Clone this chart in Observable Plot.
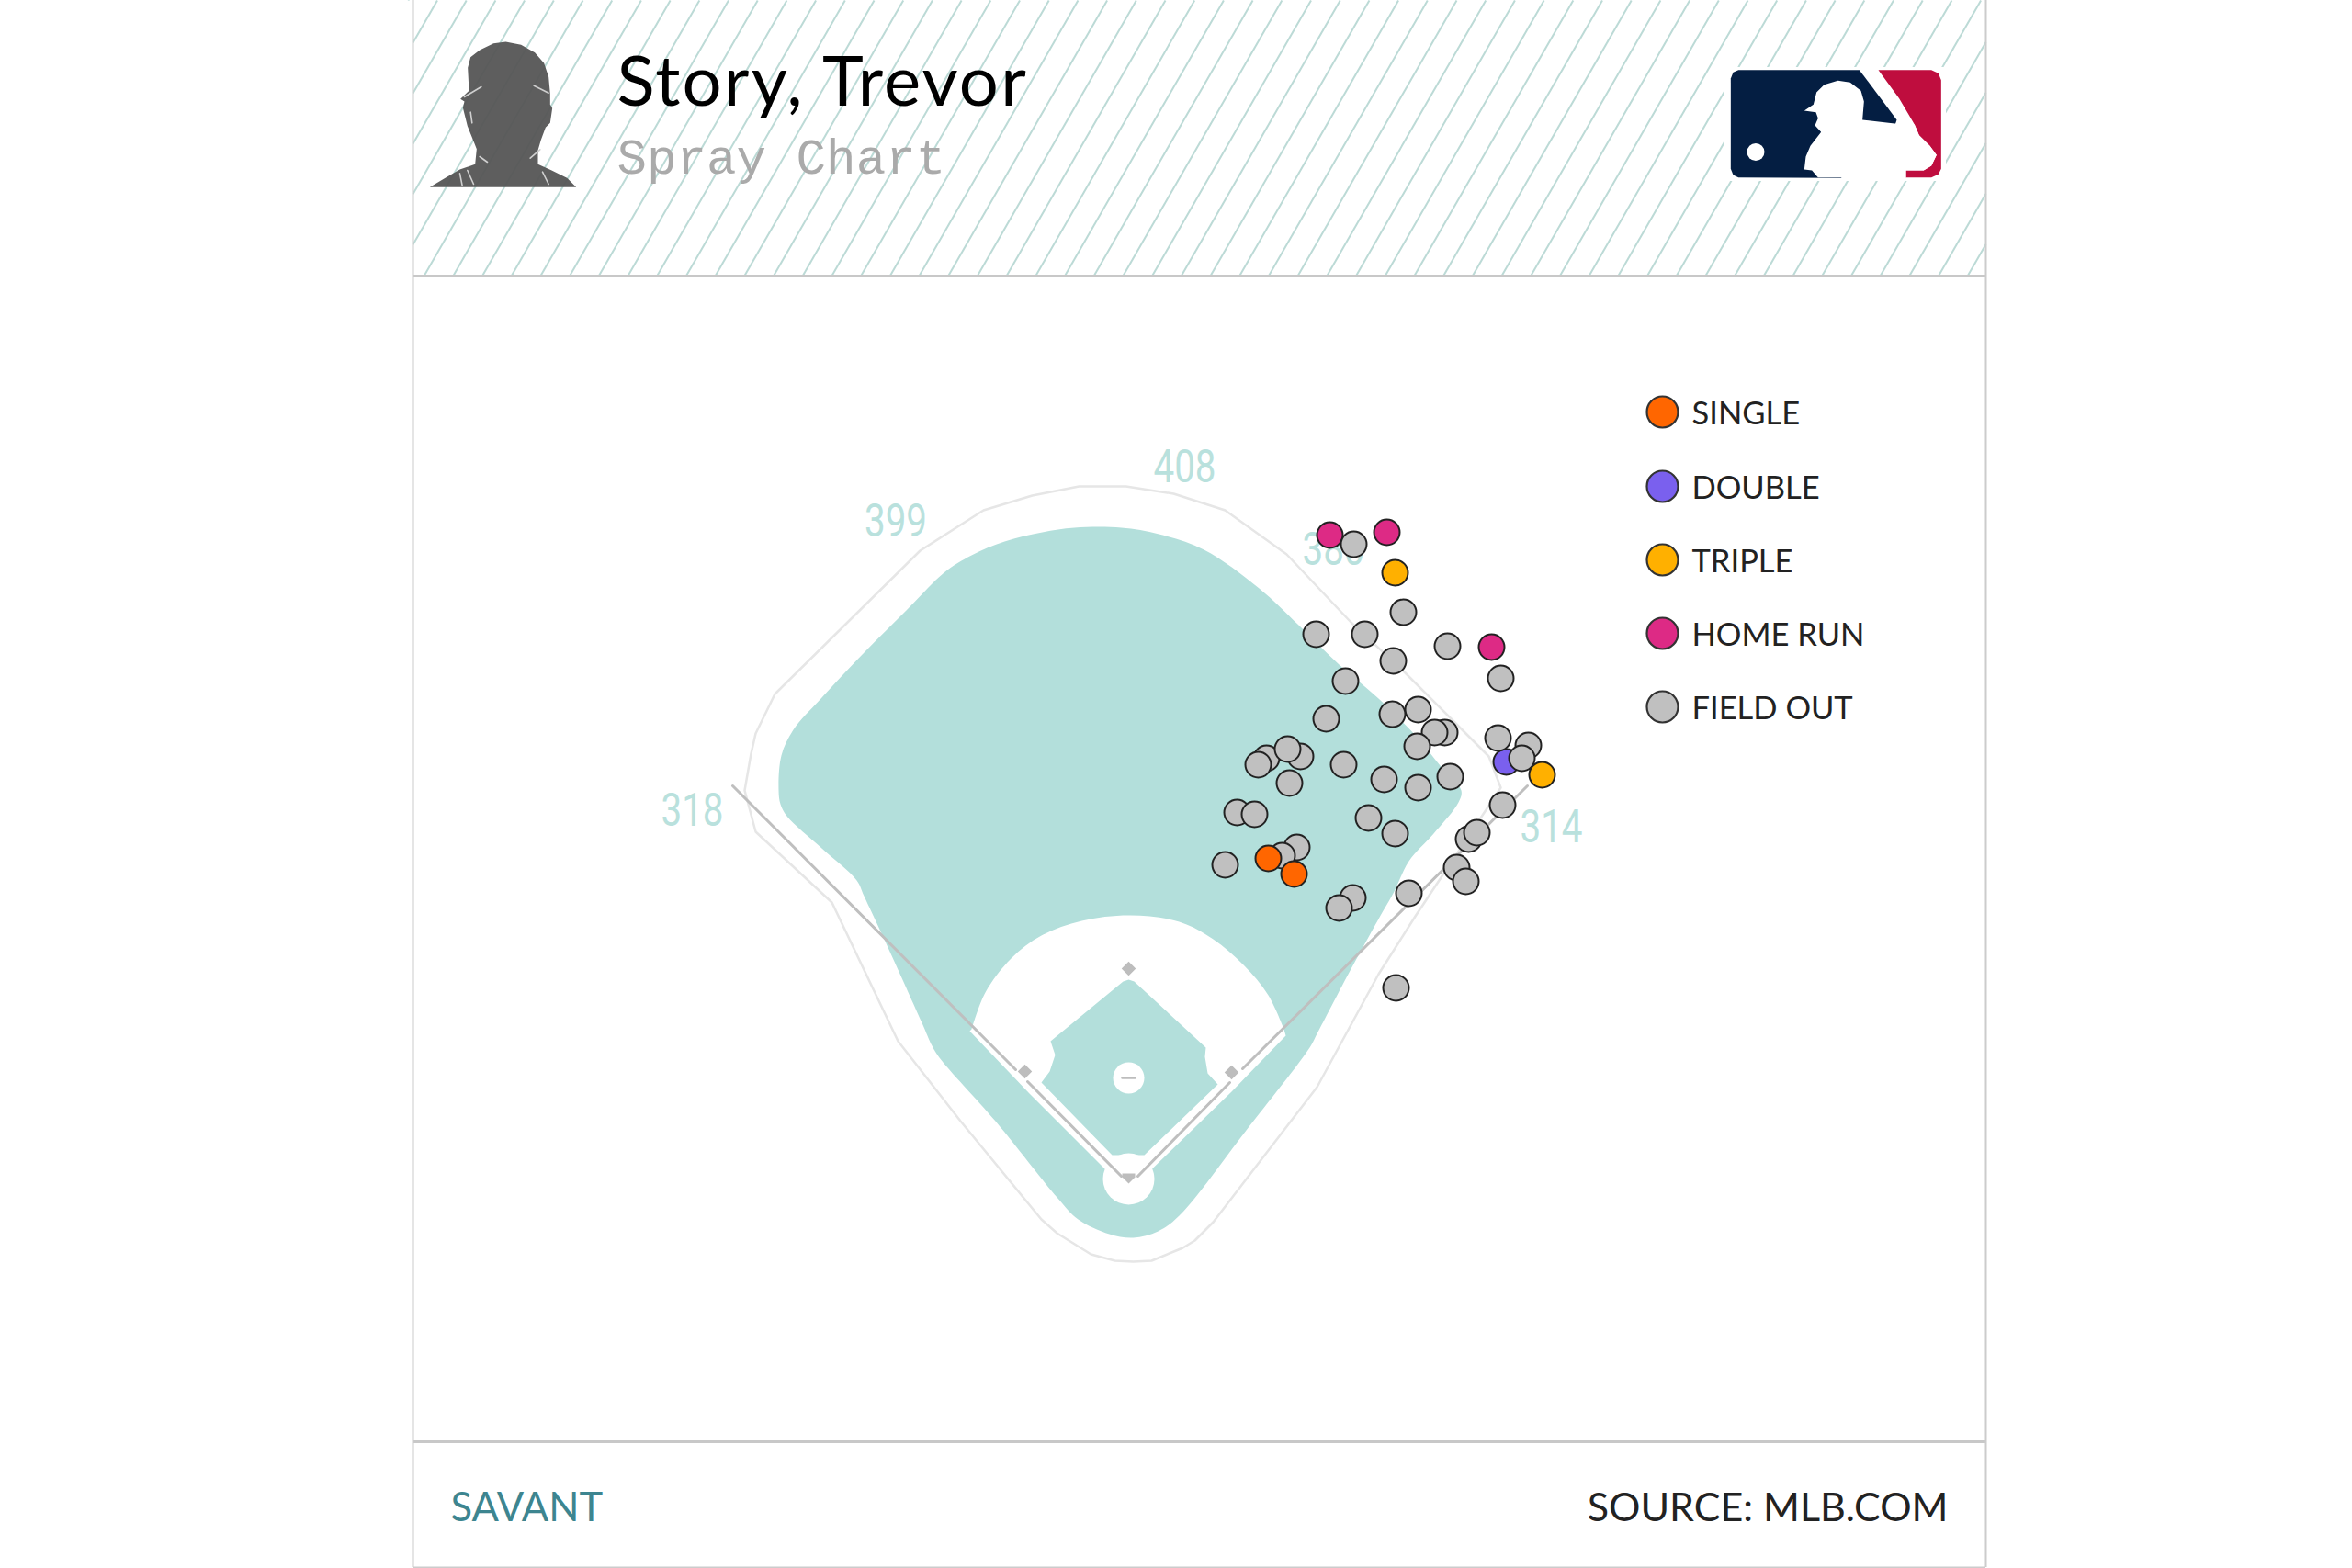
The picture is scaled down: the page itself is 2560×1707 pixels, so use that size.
<!DOCTYPE html>
<html>
<head>
<meta charset="utf-8">
<script src="https://cdn.jsdelivr.net/npm/d3@7"></script>
<script src="https://cdn.jsdelivr.net/npm/@observablehq/plot@0.6"></script>
<style>
html,body{margin:0;padding:0;background:#fff}
svg{display:block}
.title-text text{letter-spacing:2.2px}
</style>
</head>
<body>
<div id="chart"></div>
<script>
// Batted balls (x, y in chart units)
const homeRuns = [[1447,582],[1509,579],[1623,704]];
const doubles = [[1639,829]];
const fieldOuts = [[1473,592],[1527,666],[1432,690],[1485,690],[1575,703],[1516,719],[1633,738],[1464,741],[1443,782],[1543,772],[1515,777],[1572,797],[1561,797],[1542,812],[1630,803],[1663,811],[1656,825],[1415,823],[1378,825],[1369,832],[1401,815],[1462,832],[1403,852],[1506,848],[1543,857],[1578,845],[1346,884],[1365,886],[1489,890],[1518,907],[1635,876],[1598,913],[1607,906],[1411,922],[1395,931],[1333,941],[1585,944],[1595,959],[1533,972],[1472,977],[1457,988],[1519,1075]];
const singles = [[1380,934],[1408,951]];
const triples = [[1518,623],[1678,843]];

// Legend
const legendLabels = ["SINGLE","DOUBLE","TRIPLE","HOME RUN","FIELD OUT"];
const legendColors = ["#ff6600","#7a60ee","#ffb000","#dd2a85","#c0c0c0"];
const legendY = [448,529,609,689,769];

// Distance labels
const distLabels = ["318","399","408","380","314"];
const distX = [753,974.5,1289,1451,1688];
const distY = [898,583,524,614,916];

// Field shapes
const wall = [[1045,1220],[1133,1327],[1150,1342],[1187,1365],[1213,1372],[1233,1373],[1253,1372],[1287,1358],[1300,1350],[1320,1330],[1433,1183],[1500,1060],[1540,997],[1633,857],[1620,823],[1587,790],[1527,730],[1470,677],[1400,603],[1333,555],[1277,537],[1225,529],[1174,529],[1123,539],[1070,555],[1001,599],[843,755],[822,798],[817,820],[810,860],[822,905],[905,982],[977,1133]];
const outfield = [[856,888],[849,875],[847,860],[850,822],[863,794],[894,759],[940,710],[986,664],[1027,623],[1057,604],[1093,589],[1134,579],[1169,574],[1220,574],[1261,581],[1310,598],[1370,640],[1413,680],[1457,723],[1500,760],[1540,800],[1567,833],[1590,860],[1587,873],[1560,907],[1533,937],[1517,970],[1500,1000],[1467,1060],[1433,1125],[1425,1140],[1356,1230],[1283,1323],[1260,1340],[1233,1347],[1207,1343],[1173,1327],[1150,1303],[1083,1220],[1022,1151],[1014,1138],[1003,1113],[961,1020],[940,975],[932,958],[894,923]];
const dirtArc = [[1057,1120],[1072,1080],[1100,1043],[1133,1018],[1177,1002],[1230,996],[1283,1003],[1320,1022],[1353,1050],[1380,1083],[1397,1120]];
const basePaths = [[1140,1050],[1320,1050],[1397,1120],[1399,1127],[1340,1188],[1235,1290],[1220,1290],[1120,1190],[1055,1122],[1057,1120]];
const infieldGrass = [[1228,1066],[1234,1068],[1312,1140],[1311,1150],[1314,1168],[1325,1180],[1245,1257],[1210,1257],[1133,1178],[1142,1166],[1148,1148],[1143,1133],[1222,1068]];
const foulLeftOuter = [[797,855],[1105,1164]];
const foulLeftInner = [[1118,1177],[1220,1280]];
const foulRightOuter = [[1662,855],[1352,1163]];
const foulRightInner = [[1338,1178],[1238,1280]];
const homeCircle = [[1228,1283]];
const moundCircle = [[1228,1173]];
const bases = [[1228,1054],[1340,1167],[1115,1166]];
const homePlate = [[1221,1277],[1235,1277],[1235,1281],[1228,1288],[1221,1281]];
const moundDash = [[1221,1173],[1235,1173]];

// Header artwork
const silhouette = [[52,520],[110,485],[150,462],[200,445],[205,395],[195,370],[175,320],[160,260],[165,240],[152,232],[180,205],[176,130],[185,95],[215,72],[260,50],[300,45],[350,55],[395,80],[425,115],[440,160],[445,215],[445,250],[452,262],[445,310],[430,325],[415,365],[405,400],[405,445],[450,465],[500,490],[530,520]].map(([x,y])=>[450+x/3,30+y/3]);
const silhouetteMarks = [[[165,225],[220,192]],[[392,188],[440,212]],[[380,425],[412,397]],[[215,420],[240,438]],[[185,275],[190,310]],[[150,475],[158,515]],[[175,465],[195,510]],[[420,470],[440,510]]].map(s=>s.map(([x,y])=>[450+x/3,30+y/3]));
const logoNavy = [[65,47],[460,47],[582,210],[578,222],[400,400],[65,398],[48,390],[40,370],[40,75],[48,55]].map(([x,y])=>[1870+x/3,60+y/3]);
const logoRed = [[522,47],[695,47],[718,58],[727,80],[727,370],[718,388],[695,398],[612,398],[612,375],[670,375],[695,360],[712,325],[690,295],[655,260],[640,225],[590,140]].map(([x,y])=>[1870+x/3,60+y/3]);
const logoBatter = [[280,180],[310,160],[320,120],[345,95],[390,82],[430,88],[465,115],[475,150],[472,185],[470,210],[575,222],[640,225],[655,260],[690,295],[712,325],[695,360],[670,375],[612,375],[612,398],[325,398],[305,375],[280,372],[285,330],[300,295],[335,250],[315,228],[325,205],[318,185]].map(([x,y])=>[1870+x/3,60+y/3]);
const logoBall = [[1910.5,165]];

// Panel frame
const panelL = 449, panelR = 2161, headerY = 300, footerY = 1569, panelB = 1706;
const hatch = d3.range(270.8, panelR, 31.7).map(x0 => {
  // clip the 60-degree stripe to the header band
  let x1=x0, y1=headerY, x2=x0+173, y2=0;
  if (x1<panelL){ y1 -= (panelL-x1)/0.5767; x1=panelL; }
  if (x2>panelR){ y2 += (x2-panelR)/0.5767; x2=panelR; }
  return {x1,y1,x2,y2};
});

const X = d=>d[0], Y = d=>d[1];
const spots = (data, fill) => Plot.dot(data,{x:X,y:Y,r:14,fill,stroke:"#222",strokeWidth:2});
const sans = "Lato, 'Open Sans', sans-serif";
const foul = data => Plot.line(data,{x:X,y:Y,stroke:"#bfbfbf",strokeWidth:3});

const chart = Plot.plot({
  width:2560, height:1707,
  marginTop:0, marginRight:0, marginBottom:0, marginLeft:0,
  x:{domain:[0,2560],range:[0,2560],axis:null},
  y:{domain:[0,1707],range:[0,1707],axis:null},
  style:{background:"transparent"},
  marks:[
    // header
    Plot.link(hatch,{x1:"x1",y1:"y1",x2:"x2",y2:"y2",stroke:"#bcdad6",strokeWidth:2}),
    Plot.line(silhouette,{x:X,y:Y,curve:"linear-closed",fill:"#555",fillOpacity:0.95,stroke:"none"}),
    ...silhouetteMarks.map(s=>Plot.line(s,{x:X,y:Y,stroke:"#cfcfcf",strokeWidth:1.6})),
    Plot.rect([0],{x1:[1876],x2:[2118],y1:[73],y2:[197],fill:"#fff"}),
    Plot.line(logoNavy,{x:X,y:Y,curve:"linear-closed",fill:"#041e42",stroke:"none"}),
    Plot.line(logoRed,{x:X,y:Y,curve:"linear-closed",fill:"#bf0d3e",stroke:"none"}),
    Plot.line(logoBatter,{x:X,y:Y,curve:"linear-closed",fill:"#fff",stroke:"none"}),
    Plot.dot(logoBall,{x:X,y:Y,r:9.5,fill:"#fff"}),
    Plot.text(["Story, Trevor"],{x:[671],y:[114],text:d=>d,textAnchor:"start",lineAnchor:"bottom",fontFamily:sans,fontSize:76,fill:"#000",className:"title-text"}),
    Plot.text(["Spray Chart"],{x:[671],y:[188],text:d=>d,textAnchor:"start",lineAnchor:"bottom",fontFamily:"'Liberation Mono', monospace",fontSize:54.2,fill:"#aaaaaa"}),
    // frame
    Plot.ruleY([headerY],{x1:panelL,x2:panelR,stroke:"#c8c8c8",strokeWidth:3}),
    Plot.ruleY([footerY],{x1:panelL,x2:panelR,stroke:"#c8c8c8",strokeWidth:3}),
    Plot.ruleY([panelB],{x1:panelL,x2:panelR,stroke:"#cccccc",strokeWidth:2}),
    Plot.ruleX([panelL,panelR],{y1:0,y2:panelB,stroke:"#cccccc",strokeWidth:2}),
    // field
    Plot.line(wall,{x:X,y:Y,curve:"linear-closed",stroke:"#e6e6e6",strokeWidth:2.5,fill:"none"}),
    Plot.line(outfield,{x:X,y:Y,curve:"catmull-rom-closed",fill:"#b3dfdb",stroke:"none"}),
    Plot.line(dirtArc,{x:X,y:Y,curve:"catmull-rom",fill:"#fff",stroke:"none"}),
    Plot.line(basePaths,{x:X,y:Y,curve:"linear-closed",fill:"#fff",stroke:"none"}),
    Plot.line(infieldGrass,{x:X,y:Y,curve:"linear-closed",fill:"#b3dfdb",stroke:"none"}),
    Plot.dot(homeCircle,{x:X,y:Y,r:28,fill:"#fff"}),
    Plot.dot(moundCircle,{x:X,y:Y,r:17,fill:"#fff"}),
    foul(foulLeftOuter), foul(foulLeftInner), foul(foulRightOuter), foul(foulRightInner),
    Plot.dot(bases,{x:X,y:Y,symbol:"square2",r:7,rotate:45,fill:"#bdbdbd"}),
    Plot.line(homePlate,{x:X,y:Y,curve:"linear-closed",fill:"#bdbdbd",stroke:"none"}),
    Plot.line(moundDash,{x:X,y:Y,stroke:"#bdbdbd",strokeWidth:2.5}),
    Plot.text(distLabels,{x:distX,y:distY,text:d=>d,textAnchor:"middle",lineAnchor:"bottom",fontFamily:"Roboto, sans-serif",fontWeight:400,fontSize:50,fill:"#b9e1dd",className:"dist-label"}),
    // batted balls
    spots(homeRuns,"#dd2a85"),
    spots(doubles,"#7a60ee"),
    spots(fieldOuts,"#c0c0c0"),
    spots(singles,"#ff6600"),
    spots(triples,"#ffb000"),
    // legend
    Plot.dot(legendLabels,{x:()=>1809,y:legendY,r:17,fill:legendColors,stroke:"#333",strokeWidth:2.2}),
    Plot.text(legendLabels,{x:()=>1841,y:legendY.map(y=>y+13),text:d=>d,textAnchor:"start",lineAnchor:"bottom",fontFamily:sans,fontSize:34.5,fill:"#222"}),
    // footer
    Plot.text(["SAVANT"],{x:[490],y:[1655],text:d=>d,textAnchor:"start",lineAnchor:"bottom",fontFamily:sans,fontSize:43.5,fill:"#3d8590"}),
    Plot.text(["SOURCE: MLB.COM"],{x:[2120],y:[1655],text:d=>d,textAnchor:"end",lineAnchor:"bottom",fontFamily:sans,fontSize:43,fill:"#222"})
  ]
});
d3.select(chart).selectAll(".dist-label text").attr("textLength",68).attr("lengthAdjust","spacingAndGlyphs");
document.getElementById("chart").append(chart);
</script>
</body>
</html>
